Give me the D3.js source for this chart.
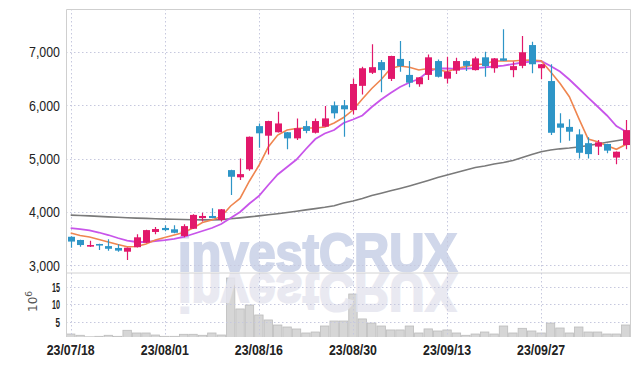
<!DOCTYPE html>
<html><head><meta charset="utf-8">
<script src="https://cdn.jsdelivr.net/npm/d3@7/dist/d3.min.js"></script>
<style>
html,body{margin:0;padding:0;background:#fff;}
svg{display:block;}
</style></head>
<body><svg id="c" width="639" height="366"></svg>
<script>
const dates = ["23/07/18","23/07/19","23/07/20","23/07/21","23/07/24","23/07/25","23/07/26","23/07/27","23/07/28","23/07/31",
"23/08/01","23/08/02","23/08/03","23/08/04","23/08/07","23/08/08","23/08/09","23/08/10","23/08/11","23/08/14",
"23/08/16","23/08/17","23/08/18","23/08/21","23/08/22","23/08/23","23/08/24","23/08/25","23/08/28","23/08/29",
"23/08/30","23/08/31","23/09/01","23/09/04","23/09/05","23/09/06","23/09/07","23/09/08","23/09/11","23/09/12",
"23/09/13","23/09/14","23/09/15","23/09/18","23/09/19","23/09/20","23/09/21","23/09/22","23/09/25","23/09/26",
"23/09/27","23/10/04","23/10/05","23/10/06","23/10/10","23/10/11","23/10/12","23/10/13","23/10/16","23/10/17"];
const open  = [3535,3475,3350,3400,3360,3325,3255,3340,3425,3625,3700,3675,3550,3685,3885,3925,3850,4785,4650,4800,
5610,5430,5495,5495,5380,5610,5485,5600,6000,6000,5910,6365,6610,6810,6495,6870,6570,6395,6570,6830,
6500,6650,6830,6660,6900,6695,6880,6660,6740,7130,6695,6455,5660,5595,5455,5290,5225,5275,5020,5255];
const high  = [3545,3480,3460,3405,3490,3395,3335,3580,3665,3720,3750,3750,3770,3955,3985,4070,4055,4790,5005,5415,
5660,5710,5880,5500,5755,5710,5755,5985,6070,6100,6505,6725,7145,6850,6930,7205,6830,6530,6955,6860,
6910,6890,6840,6910,7005,6885,7425,6820,7300,7190,6775,6770,5850,5740,5550,5400,5350,5280,5135,5725];
const low   = [3330,3350,3345,3285,3275,3255,3100,3335,3420,3580,3640,3600,3525,3680,3820,3880,3820,4320,4600,4775,
5205,5080,5490,5175,5350,5475,5470,5595,5755,5410,5830,6205,6585,6245,6455,6630,6340,6350,6475,6520,
6410,6585,6645,6655,6535,6610,6830,6525,6695,6600,6490,5445,5300,5335,5005,5005,5070,5100,4895,5175];
const close = [3445,3380,3380,3370,3310,3275,3330,3525,3660,3680,3660,3610,3735,3945,3925,3885,4050,4660,4710,5410,
5475,5705,5660,5380,5570,5520,5705,5755,5850,5925,6400,6695,6715,6660,6925,6735,6425,6525,6900,6535,
6630,6830,6740,6880,6735,6880,6835,6735,6995,6770,6770,5485,5580,5505,5110,5085,5305,5150,5130,5535];
const ma5   = [3606,3559,3531,3484,3437,3390,3349,3353,3399,3474,3521,3568,3615,3699,3803,3849,3915,4112,4253,4581,
4871,5218,5443,5537,5565,5574,5574,5593,5668,5771,5912,6118,6315,6484,6690,6737,6713,6662,6690,6671,
6630,6690,6728,6765,6774,6831,6831,6831,6844,6849,6836,6630,6413,6161,5756,5368,5318,5243,5175,5265];
const ma20  = [3699,3677,3654,3615,3568,3512,3461,3437,3437,3456,3474,3497,3531,3587,3643,3699,3774,3887,3999,4159,
4299,4506,4703,4843,4984,5181,5368,5471,5537,5668,5734,5809,5968,6109,6231,6343,6428,6493,6634,6690,
6690,6681,6690,6699,6713,6728,6746,6774,6803,6821,6831,6737,6634,6484,6315,6146,5978,5809,5612,5509];
const ma60  = [3941,3934,3926,3917,3908,3900,3893,3885,3879,3872,3866,3863,3859,3855,3851,3851,3857,3872,3889,3908,
3926,3947,3968,3990,4014,4039,4063,4088,4118,4168,4206,4253,4309,4352,4397,4440,4487,4538,4590,4646,
4693,4740,4787,4834,4862,4899,4928,4965,5021,5078,5130,5162,5184,5199,5218,5246,5274,5306,5334,5363];
const volume = [1.42,1.05,0.6,0.75,1.05,0.75,2.5,1.72,1.72,1.13,0.75,0.75,1.34,1.34,1.05,1.72,1.13,17.7,8.7,9.85,
6.95,5.5,4.04,3.46,2.88,1.72,2.0,3.75,5.2,5.2,13.05,5.8,4.6,3.75,2.6,2.6,3.75,1.72,2.9,2.3,
2.6,1.72,1.05,1.42,2.0,1.42,3.75,1.72,3.08,2.3,1.72,4.6,3.17,1.72,3.46,2.0,2.0,1.42,1.42,4.04];
const priceTicks = [3000,4000,5000,6000,7000];
const volTicks = [5,10,15];
const dateTicks = ["23/07/18","23/08/01","23/08/16","23/08/30","23/09/13","23/09/27"];

const L = 66, R = 630.5, T = 9, PB = 272.5, VB = 337;
const svg = d3.select("#c");
const x = d3.scaleLinear().domain([-0.5, dates.length - 0.5]).range([L, R]);
const y = d3.scaleLinear().domain([2865, 7806]).range([PB, T]);
const yv = d3.scaleLinear().domain([0, 19.3]).range([338.9, PB]);
const UP = "#e2186b", DN = "#2e95c7";
const FONT = "'Liberation Sans',Arial,sans-serif";

const defs = svg.append("defs");
defs.append("clipPath").attr("id","cp").append("rect").attr("x",L).attr("y",T).attr("width",R-L).attr("height",PB-T);
defs.append("clipPath").attr("id","cv").append("rect").attr("x",L).attr("y",PB).attr("width",R-L).attr("height",VB-PB);
const grad = defs.append("linearGradient").attr("id","fade")
  .attr("gradientUnits","userSpaceOnUse").attr("x1",0).attr("y1",PB).attr("x2",0).attr("y2",318);
grad.append("stop").attr("offset",0).attr("stop-color","#e5e6ef").attr("stop-opacity",1);
grad.append("stop").attr("offset",0.6).attr("stop-color","#e5e6ef").attr("stop-opacity",0.85);
grad.append("stop").attr("offset",1).attr("stop-color","#e5e6ef").attr("stop-opacity",0);

// watermark (under grid)
const wm = svg.append("g").attr("clip-path","url(#cp)");
wm.append("text").attr("x",178).attr("y",271).text("investCRUX")
  .attr("font-family","'Liberation Sans',Arial,sans-serif").attr("font-weight","bold").attr("font-size",54)
  .attr("textLength",279).attr("lengthAdjust","spacingAndGlyphs")
  .attr("fill","#d0d7ea").attr("stroke","#d0d7ea").attr("stroke-width",2.2).attr("stroke-linejoin","miter");

// volume bars
const vg = svg.append("g").attr("clip-path","url(#cv)");
const bw = x(1) - x(0);
vg.selectAll("rect").data(volume).join("rect")
  .attr("x",(d,i)=>x(i)-bw/2+0.5).attr("width",bw-1)
  .attr("y",d=>yv(d)).attr("height",d=>yv(0)-yv(d))
  .attr("fill","#d6d6d6").attr("stroke","#bcbcbc").attr("stroke-width",0.8);
// reflection
vg.append("text").attr("transform",`translate(0,${2*PB}) scale(1,-1)`)
  .attr("x",178).attr("y",PB-1.5).text("investCRUX")
  .attr("font-family","'Liberation Sans',Arial,sans-serif").attr("font-weight","bold").attr("font-size",54)
  .attr("textLength",279).attr("lengthAdjust","spacingAndGlyphs")
  .attr("fill","url(#fade)").attr("stroke","url(#fade)").attr("stroke-width",2.2).attr("opacity",0.85);

// grid
const g = svg.append("g");
const tickIdx = dateTicks.map(d => dates.indexOf(d));
g.selectAll("line.vg").data(tickIdx).join("line")
  .attr("x1", d => Math.round(x(d))+0.5).attr("x2", d => Math.round(x(d))+0.5)
  .attr("y1", T).attr("y2", VB)
  .attr("stroke","#c6c8de").attr("stroke-dasharray","1.5,2.5");
g.selectAll("line.hg").data(priceTicks).join("line")
  .attr("x1", L).attr("x2", R).attr("y1", d => Math.round(y(d))+0.5).attr("y2", d => Math.round(y(d))+0.5)
  .attr("stroke","#c6c8de").attr("stroke-dasharray","1.5,2.5");
g.selectAll("line.hv").data(volTicks).join("line")
  .attr("x1", L).attr("x2", R).attr("y1", d => Math.round(yv(d))+0.5).attr("y2", d => Math.round(yv(d))+0.5)
  .attr("stroke","#c6c8de").attr("stroke-dasharray","1.5,2.5");

// MA lines
const pg = svg.append("g").attr("clip-path","url(#cp)");
const line = arr => d3.line().x((d,i)=>x(i)).y(d=>y(d))(arr);
pg.append("path").attr("d",line(ma60)).attr("fill","none").attr("stroke","#7a7a7a").attr("stroke-width",1.6);
pg.append("path").attr("d",line(ma20)).attr("fill","none").attr("stroke","#c855ea").attr("stroke-width",1.8);
pg.append("path").attr("d",line(ma5)).attr("fill","none").attr("stroke","#ef8650").attr("stroke-width",1.6);

// candles
const cw = 7;
const cg = pg.selectAll("g.c").data(dates.map((d,i)=>i)).join("g");
cg.append("line").attr("x1",i=>Math.round(x(i))+0.5).attr("x2",i=>Math.round(x(i))+0.5)
  .attr("y1",i=>y(high[i])).attr("y2",i=>y(low[i]))
  .attr("stroke",i=>close[i]>=open[i]?UP:DN).attr("stroke-width",1.2);
cg.append("rect").attr("x",i=>Math.round(x(i))+0.5-cw/2).attr("width",cw)
  .attr("y",i=>y(Math.max(open[i],close[i])))
  .attr("height",i=>Math.max(1.5,Math.abs(y(open[i])-y(close[i]))))
  .attr("fill",i=>close[i]>=open[i]?UP:DN);

// frame
svg.append("path").attr("d",`M${L+0.5},${VB}V${T+0.5}H${R}V${VB}`).attr("fill","none").attr("stroke","#cfcfcf");
svg.append("line").attr("x1",L).attr("x2",R).attr("y1",PB+0.5).attr("y2",PB+0.5).attr("stroke","#d2d2d2");

// axes labels
svg.selectAll("text.py").data(priceTicks).join("text")
  .attr("x",60).attr("y",d=>y(d)+5.5).attr("text-anchor","end")
  .attr("font-family",FONT).attr("font-size",15.5).attr("fill","#222")
  .attr("textLength",31).attr("lengthAdjust","spacingAndGlyphs")
  .text(d=>d3.format(",")(d));
svg.selectAll("text.vy").data(volTicks).join("text")
  .attr("x",60).attr("y",d=>yv(d)+5).attr("text-anchor","end")
  .attr("font-family",FONT).attr("font-size",12.5).attr("font-weight","bold").attr("fill","#222")
  .attr("textLength",d=>String(d).length>1?8:4.5).attr("lengthAdjust","spacingAndGlyphs")
  .text(d=>d);
const vl = svg.append("text").attr("transform","translate(37,312) rotate(-90)")
  .attr("font-family","'DejaVu Sans',sans-serif").attr("font-size",12).attr("fill","#555");
vl.append("tspan").text("10");
vl.append("tspan").attr("dy",-5).attr("font-size",9).text("6");
svg.selectAll("text.xd").data(tickIdx).join("text")
  .attr("x",i=>x(i)).attr("y",354.5).attr("text-anchor","middle")
  .attr("font-family",FONT).attr("font-size",14.5).attr("font-weight","bold").attr("fill","#222")
  .attr("textLength",48).attr("lengthAdjust","spacingAndGlyphs")
  .text(i=>dates[i]);
</script></body></html>
